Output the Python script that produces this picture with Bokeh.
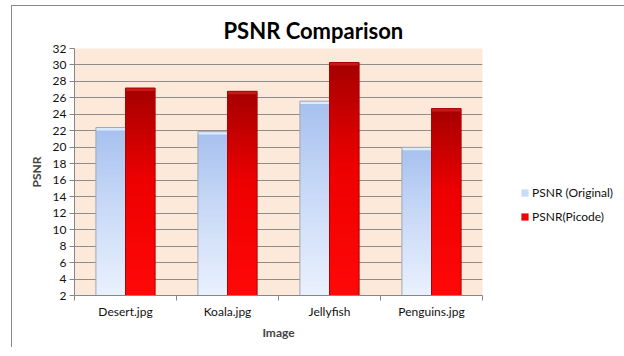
from bokeh.plotting import figure
from bokeh.models import (FixedTicker, Legend, LegendItem, Range1d, Title,
                          ColumnDataSource)
from bokeh.embed import file_html
from bokeh.resources import INLINE

categories = ["Desert.jpg", "Koala.jpg", "Jellyfish", "Penguins.jpg"]
psnr_original = [22.4, 21.9, 25.6, 20.0]
psnr_picode = [27.2, 26.8, 30.3, 24.7]
y_ticks = [2, 4, 6, 8, 10, 12, 14, 16, 18, 20, 22, 24, 26, 28, 30, 32]
series_names = ["PSNR (Original)", "PSNR(Picode)"]

FONT = "Lato"
Y_MIN, Y_MAX = 2, 32
BAR_W = 0.29
OFFS = [-0.145, 0.145]


def lerp(c1, c2, t):
    return "#%02x%02x%02x" % tuple(int(round(a + (b - a) * t)) for a, b in zip(c1, c2))


# gradient stops (bottom -> top)
blue_stops = [(0.0, (234, 241, 253)), (0.6, (196, 214, 246)), (1.0, (166, 192, 238))]
red_stops = [(0.0, (255, 8, 8)), (0.55, (238, 0, 0)), (1.0, (165, 0, 0))]


def grad(stops, t):
    for (t0, c0), (t1, c1) in zip(stops[:-1], stops[1:]):
        if t <= t1:
            return lerp(c0, c1, (t - t0) / (t1 - t0) if t1 > t0 else 0)
    return lerp(stops[-1][1], stops[-1][1], 0)


p = figure(frame_width=408, frame_height=247, output_backend="svg",
           toolbar_location=None, x_range=Range1d(0, len(categories)),
           y_range=Range1d(Y_MIN, Y_MAX),
           min_border_left=62, min_border_right=120, min_border_top=42,
           min_border_bottom=52)
p.styles = {"border-left": "1px solid #8a8a8a", "border-top": "1px solid #8a8a8a",
            "margin-left": "11px", "margin-top": "5px"}

p.background_fill_color = "#fde9d9"
p.border_fill_color = "white"
p.outline_line_color = None

# gridlines
p.ygrid.ticker = FixedTicker(ticks=y_ticks)
p.ygrid.grid_line_color = "#8d8d8d"
p.ygrid.grid_line_width = 1
p.xgrid.grid_line_color = None

# bars with vertical gradient
NSEG = 40
legend_renderers = []
for si, (vals, stops) in enumerate([(psnr_original, blue_stops), (psnr_picode, red_stops)]):
    xs, bots, tops, cols = [], [], [], []
    for i, v in enumerate(vals):
        xc = i + 0.5 + OFFS[si]
        h = v - Y_MIN
        for k in range(NSEG):
            b = Y_MIN + h * k / NSEG
            t = Y_MIN + h * min(k + 1.6, NSEG) / NSEG
            xs.append(xc)
            bots.append(b)
            tops.append(t)
            cols.append(grad(stops, (k + 0.5) / NSEG))
    src = ColumnDataSource(dict(x=xs, bottom=bots, top=tops, color=cols))
    r = p.vbar(x="x", bottom="bottom", top="top", width=BAR_W, fill_color="color",
               line_color=None, source=src)
    legend_renderers.append(r)
    # top bevel cap
    capc = "#dcebfd" if si == 0 else "#c81818"
    p.vbar(x=[i + 0.5 + OFFS[si] for i in range(len(vals))],
           bottom=[v - 0.35 for v in vals], top=vals, width=BAR_W,
           fill_color=capc, line_color=None)
    # outline
    p.vbar(x=[i + 0.5 + OFFS[si] for i in range(len(vals))], bottom=Y_MIN,
           top=vals, width=BAR_W, fill_color=None,
           line_color="#9fa7b5" if si == 0 else "#b00000", line_width=1)

# axes
p.yaxis.ticker = FixedTicker(ticks=y_ticks)
p.yaxis.axis_label = "PSNR"
p.yaxis.axis_label_text_font = FONT
p.yaxis.axis_label_text_font_style = "bold"
p.yaxis.axis_label_text_font_size = "12px"
p.yaxis.axis_label_standoff = 6
p.yaxis.major_label_text_font = FONT
p.yaxis.major_label_text_font_size = "12px"
p.yaxis.major_label_text_color = "#111111"
p.yaxis.axis_line_color = "#868686"
p.yaxis.major_tick_line_color = "#868686"
p.yaxis.major_tick_in = 0
p.yaxis.major_tick_out = 5
p.yaxis.minor_tick_line_color = None
p.yaxis.major_label_standoff = 3

centers = [i + 0.5 for i in range(len(categories))]
bounds = list(range(len(categories) + 1))
p.xaxis.ticker = FixedTicker(ticks=centers, minor_ticks=bounds)
p.xaxis.major_label_overrides = {c: n for c, n in zip(centers, categories)}
p.xaxis.major_tick_line_color = None
p.xaxis.minor_tick_line_color = "#868686"
p.xaxis.minor_tick_in = 0
p.xaxis.minor_tick_out = 5
p.xaxis.axis_line_color = "#868686"
p.xaxis.major_label_text_font = FONT
p.xaxis.major_label_text_font_size = "12px"
p.xaxis.major_label_text_color = "#111111"
p.xaxis.major_label_standoff = 2
p.xaxis.axis_label = "Image"
p.xaxis.axis_label_text_font = FONT
p.xaxis.axis_label_text_font_style = "bold"
p.xaxis.axis_label_text_font_size = "12px"
p.xaxis.axis_label_standoff = 3

# title
t = Title(text="PSNR Comparison", align="left", offset=149,
          text_font=FONT, text_font_size="22px", text_font_style="bold",
          text_color="#000000")
p.add_layout(t, "above")

# legend
mid = NSEG // 2
legend = Legend(items=[LegendItem(label=series_names[0], renderers=[legend_renderers[0]], index=mid),
                       LegendItem(label=series_names[1], renderers=[legend_renderers[1]], index=mid)],
                orientation="vertical",
                label_text_font=FONT, label_text_font_size="12px",
                label_text_color="#111111", glyph_width=9, glyph_height=9,
                label_height=14, spacing=9, label_standoff=3, padding=0,
                margin=0, border_line_color=None, background_fill_alpha=0)
p.add_layout(legend, "right")
legend.location = (38, 71)

open("out.html", "w").write(file_html(p, INLINE))
